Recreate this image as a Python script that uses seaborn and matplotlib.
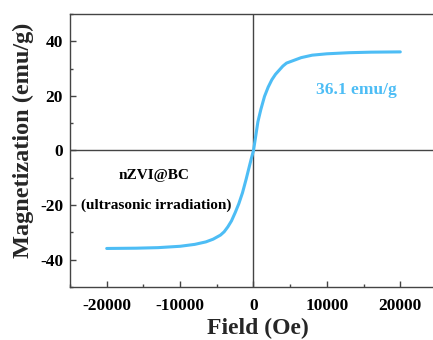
import matplotlib
matplotlib.use("Agg")
import matplotlib.pyplot as plt
from matplotlib.ticker import MultipleLocator
import pandas as pd
import seaborn as sns

# Hysteresis (M-H) measurement of nZVI@BC
field_oe = [-20000, -16000, -13000, -10000, -8000, -6500, -5500, -4500, -4000,
            -3500, -3000, -2500, -2000, -1500, -1000, -600, -300, 0,
            300, 600, 1000, 1500, 2000, 2500, 3000, 3500, 4000, 4500,
            5500, 6500, 8000, 10000, 13000, 16000, 20000]
magnetization = [-35.9, -35.8, -35.6, -35.1, -34.4, -33.5, -32.5, -31.0, -29.8,
                 -28.0, -25.8, -22.8, -19.5, -15.5, -10.5, -6.2, -3.0, 0.0,
                 5.2, 10.5, 15.0, 19.8, 23.2, 25.9, 27.9, 29.4, 30.9, 32.0,
                 33.0, 34.0, 34.9, 35.4, 35.8, 36.0, 36.1]
saturation = 36.1

x_ticks = [-20000, -10000, 0, 10000, 20000]
y_ticks = [-40, -20, 0, 20, 40]

curve_color = "#4DBDF5"
axis_color = "#444444"

sns.set_theme(style="ticks")
plt.rcParams["font.family"] = ["Liberation Serif", "DejaVu Serif"]
plt.rcParams["font.weight"] = "bold"

df = pd.DataFrame({"Field": field_oe, "M": magnetization})

fig = plt.figure(figsize=(4.33, 3.40), dpi=100)
ax = fig.add_axes([0.1617, 0.156, 0.8475, 0.803])

ax.axhline(0, color=axis_color, lw=1.0, zorder=1)
ax.axvline(0, color=axis_color, lw=1.0, zorder=1)

sns.lineplot(data=df, x="Field", y="M", ax=ax, color=curve_color,
             lw=2.2, sort=False, zorder=3)

ax.set_xlim(-25000, 25000)
ax.set_ylim(-50, 50)
ax.set_xticks(x_ticks)
ax.set_yticks(y_ticks)
ax.xaxis.set_minor_locator(MultipleLocator(5000))
ax.yaxis.set_minor_locator(MultipleLocator(10))
ax.set_xticklabels([str(v) for v in x_ticks])
ax.set_yticklabels([str(v) for v in y_ticks])

ax.tick_params(which="both", direction="in", colors=axis_color,
               labelcolor="black", labelsize=12.5, width=1.0)
ax.tick_params(which="major", length=4, pad=5)
ax.tick_params(axis="x", which="major", pad=8)
ax.tick_params(which="minor", length=2.5)
for lab in ax.get_xticklabels() + ax.get_yticklabels():
    lab.set_fontweight("bold")

for side in ["left", "bottom", "top", "right"]:
    ax.spines[side].set_color(axis_color)
    ax.spines[side].set_linewidth(1.0)

ax.set_xlabel("Field (Oe)", fontsize=17, fontweight="bold")
ax.set_ylabel("Magnetization (emu/g)", fontsize=17.5, fontweight="bold")
ax.xaxis.set_label_coords(0.512, -0.112)
ax.yaxis.set_label_coords(-0.098, 0.537)

ax.text(14000, 22, f"{saturation} emu/g", color=curve_color, fontsize=12.5,
        fontweight="bold", ha="center", va="center")
ax.text(-13500, -9.3, "nZVI@BC", color="black", fontsize=11,
        fontweight="bold", ha="center", va="center")
ax.text(-13300, -20, "(ultrasonic irradiation)", color="black", fontsize=11,
        fontweight="bold", ha="center", va="center")

fig.savefig("out.png", dpi=100)
